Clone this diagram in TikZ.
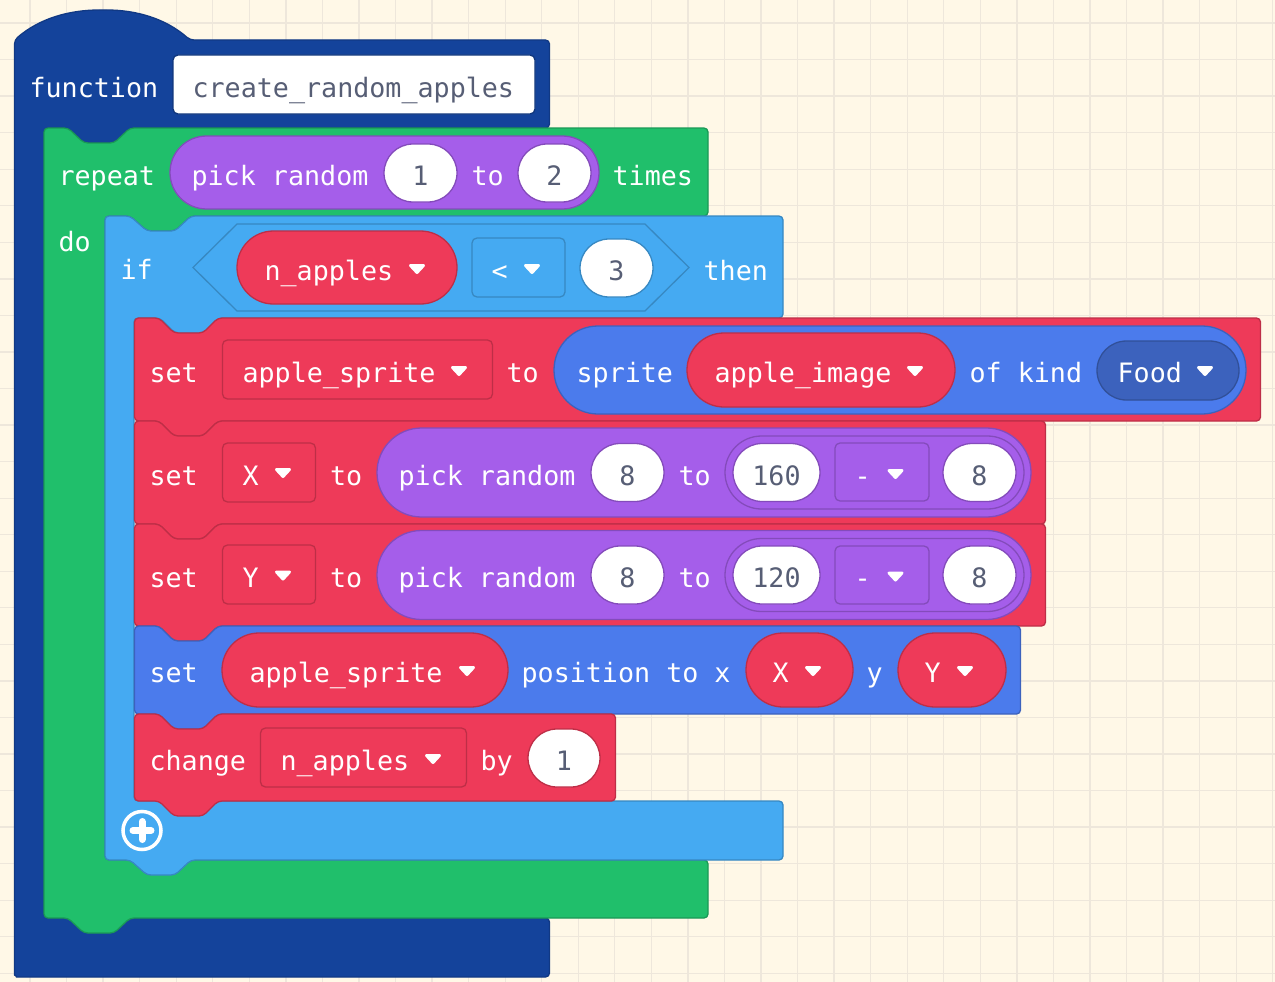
\documentclass[tikz,border=0pt]{standalone}
\usepackage{fontspec}
\setmonofont{DejaVu Sans Mono}
\usetikzlibrary{shapes.misc}

\definecolor{paper}{HTML}{FFF8E7}
\definecolor{gridline}{HTML}{EEE7DB}
\definecolor{funcblue}{HTML}{14439B}
\definecolor{loopgreen}{HTML}{20BF6B}
\definecolor{logicblue}{HTML}{45AAF2}
\definecolor{spriteblue}{HTML}{4B7BEC}
\definecolor{varred}{HTML}{EE3A59}
\definecolor{mathpurple}{HTML}{A55EEA}
\definecolor{valgrey}{HTML}{575E75}

\tikzset{
  block/.style={line width=1.3pt, rounded corners=4pt},
  lab/.style={anchor=base west, inner sep=0pt, xshift=-0.6pt, text=white, font=\ttfamily\fontsize{26.7}{30}\selectfont},
  pill/.style={rounded rectangle, draw, line width=1.3pt, inner sep=0pt, text=white,
    font=\ttfamily\fontsize{26.7}{30}\selectfont, text height=25pt, text depth=0pt},
  val/.style={pill, fill=white, draw=#1!80!black, text=valgrey},
  drop/.style={line width=1.3pt, rounded corners=5pt}
}

% statement block: colour, left, top, right, bottom
\newcommand{\stmtblock}[5]{
  \draw[block, fill=#1, draw=#1!80!black] (#2+.5,#3) -- (#2+25,#3) -- (#2+40,#3+15) -- (#2+69,#3+15)
  -- (#2+84,#3) -- (#4-.5,#3) -- (#4-.5,#5) -- (#2+84,#5) -- (#2+69,#5+15) -- (#2+40,#5+15)
  -- (#2+25,#5) -- (#2+.5,#5) -- cycle;
}
% little white triangle of a dropdown
\newcommand{\droptri}[2]{
  \filldraw[white, line width=3pt, line join=round] (#1-6.5,#2-3.5) -- (#1+6.5,#2-3.5) -- (#1,#2+3.5) -- cycle;
}

\begin{document}
\begin{tikzpicture}[x=1pt, y=-1pt]
  \useasboundingbox (0,0) rectangle (1275,982);
  \fill[paper] (0,0) rectangle (1275,982);
  \begin{scope}
    \clip (0,0) rectangle (1275,982);
    \foreach \gx in {0,...,34} {
      \draw[gridline, line width=1.3pt] (30+36.55*\gx,0) -- (30+36.55*\gx,982);
    }
    \foreach \gy in {0,...,26} {
      \draw[gridline, line width=1.3pt] (0,23+36.55*\gy) -- (1275,23+36.55*\gy);
    }
  \end{scope}

  % function
  \draw[block, fill=funcblue, draw=funcblue!85!black] (14.5,977) -- (549.5,977) -- (549.5,918) -- (44,918) -- (44,128)
  -- (68,128) -- (84,143) -- (114,143) -- (130,128) -- (549.5,128) -- (549.5,40) -- (190,40)
  .. controls (165,18) and (135,10) .. (103,10) .. controls (70,10) and (40,18) .. (14.5,40) -- (14.5,971)
  arc [start angle=180, end angle=90, radius=6] -- cycle;
  \node[lab] (lblFunction) at (30,97) {function};
  \draw[drop, fill=white, draw=funcblue!80!black] (173,55) rectangle (535,114);
  \node[lab, text=valgrey] (lblName) at (193,97) {create\_random\_apples};

  % repeat
  \draw[block, fill=loopgreen, draw=loopgreen!80!black] (44,128) -- (68,128) -- (84,143) -- (114,143) -- (130,128)
  -- (708,128) -- (708,216) -- (191,216) -- (175,231) -- (147,231) -- (130,216) -- (105,216) -- (105,860)
  -- (708,860) -- (708,918) -- (130,918) -- (114,933) -- (84,933) -- (68,918) -- (44,918) -- cycle;
  \node[lab] (lblRepeat) at (59,185) {repeat};
  \node[pill, fill=mathpurple, draw=mathpurple!80!black, minimum width=429pt, minimum height=73pt] (pillTimes) at (384.5,172.5) {};
  \node[lab] (lblPick) at (192,185) {pick random};
  \node[val=mathpurple, minimum width=73pt, minimum height=58pt] (valOne) at (420.5,173) {1};
  \node[lab] (lblToA) at (472,185) {to};
  \node[val=mathpurple, minimum width=73pt, minimum height=58pt] (valTwo) at (554.5,173) {2};
  \node[lab] (lblTimes) at (613,185) {times};
  \node[lab] (lblDo) at (59,251) {do};

  % if
  \draw[block, fill=logicblue, draw=logicblue!80!black] (105,216) -- (130,216) -- (147,231) -- (175,231) -- (191,216)
  -- (783,216) -- (783,318) -- (218,318) -- (203,333) -- (175,333) -- (160,318) -- (134,318) -- (134,801)
  -- (783,801) -- (783,860) -- (191,860) -- (175,875) -- (147,875) -- (130,860) -- (105,860) -- cycle;
  \node[lab] (lblIf) at (121,279) {if};
  \draw[line width=1.3pt, fill=logicblue, draw=logicblue!80!black] (193,267.5) -- (237,224) -- (645,224) -- (689,267.5) -- (645,311) -- (237,311) -- cycle;
  \node[pill, fill=varred, draw=varred!80!black, minimum width=220pt, minimum height=73pt] (pillCount) at (347,267.5) {};
  \node[lab] (lblCount) at (265,280) {n\_apples};
  \droptri{417}{269}
  \draw[drop, fill=logicblue, draw=logicblue!80!black] (472,238) rectangle (565,297);
  \node[lab] (lblLess) at (492,280) {<};
  \droptri{532}{269}
  \node[val=logicblue, minimum width=73pt, minimum height=58pt] (valThree) at (616.5,268) {3};
  \node[lab] (lblThen) at (704,280) {then};

  % set apple_sprite
  \stmtblock{varred}{134}{318}{1261}{421}
  \node[lab] (lblSetA) at (150,382) {set};
  \draw[drop, fill=varred, draw=varred!80!black] (222.5,340) rectangle (492.5,399);
  \node[lab] (lblSprite) at (243,382) {apple\_sprite};
  \droptri{459}{371}
  \node[lab] (lblToB) at (507,382) {to};
  \node[pill, fill=spriteblue, draw=spriteblue!80!black, minimum width=692pt, minimum height=88pt] (pillSprite) at (900,370) {};
  \node[lab] (lblKindSprite) at (577,382) {sprite};
  \node[pill, fill=varred, draw=varred!80!black, minimum width=268pt, minimum height=74pt] (pillImage) at (821,370) {};
  \node[lab] (lblImage) at (715,382) {apple\_image};
  \droptri{915}{371}
  \node[lab] (lblKind) at (970,382) {of kind};
  \node[pill, fill=spriteblue!80!black, draw=spriteblue!65!black, minimum width=142pt, minimum height=59pt] (pillFood) at (1168,370.5) {};
  \node[lab] (lblFood) at (1118,382) {Food};
  \droptri{1205}{371}

  % set X
  \stmtblock{varred}{134}{421}{1046}{524}
  \node[lab] (lblSetX) at (150,485) {set};
  \draw[drop, fill=varred, draw=varred!80!black] (222.5,443) rectangle (315.5,502);
  \node[lab] (lblX) at (243,485) {X};
  \droptri{283}{473}
  \node[lab] (lblToX) at (330.5,485) {to};
  \node[pill, fill=mathpurple, draw=mathpurple!80!black, minimum width=654pt, minimum height=89pt] (pillPickX) at (704,472.5) {};
  \node[lab] (lblPickX) at (399,485) {pick random};
  \node[val=mathpurple, minimum width=73pt, minimum height=58pt] (valXa) at (627.5,472.5) {8};
  \node[lab] (lblToXb) at (679,485) {to};
  \node[pill, fill=mathpurple, draw=mathpurple!80!black, minimum width=299pt, minimum height=73pt] (pillMinusX) at (874.5,472.5) {};
  \node[val=mathpurple, minimum width=87pt, minimum height=58pt] (valXb) at (776.5,472.5) {160};
  \draw[drop, fill=mathpurple, draw=mathpurple!80!black] (835,443) rectangle (929,501);
  \node[lab] (lblMinusX) at (855,485) {-};
  \droptri{895.5}{474}
  \node[val=mathpurple, minimum width=73pt, minimum height=58pt] (valXc) at (979.5,472.5) {8};

  % set Y
  \stmtblock{varred}{134}{524}{1046}{626}
  \node[lab] (lblSetY) at (150,587) {set};
  \draw[drop, fill=varred, draw=varred!80!black] (222.5,545) rectangle (315.5,604);
  \node[lab] (lblY) at (243,587) {Y};
  \droptri{283}{575.5}
  \node[lab] (lblToY) at (330.5,587) {to};
  \node[pill, fill=mathpurple, draw=mathpurple!80!black, minimum width=654pt, minimum height=89pt] (pillPickY) at (704,575) {};
  \node[lab] (lblPickY) at (399,587) {pick random};
  \node[val=mathpurple, minimum width=73pt, minimum height=58pt] (valYa) at (627.5,575) {8};
  \node[lab] (lblToYb) at (679,587) {to};
  \node[pill, fill=mathpurple, draw=mathpurple!80!black, minimum width=299pt, minimum height=73pt] (pillMinusY) at (874.5,575) {};
  \node[val=mathpurple, minimum width=87pt, minimum height=58pt] (valYb) at (776.5,575) {120};
  \draw[drop, fill=mathpurple, draw=mathpurple!80!black] (835,546) rectangle (929,604);
  \node[lab] (lblMinusY) at (855,587) {-};
  \droptri{895.5}{576.5}
  \node[val=mathpurple, minimum width=73pt, minimum height=58pt] (valYc) at (979.5,575) {8};

  % set position
  \stmtblock{spriteblue}{134}{626}{1021}{714}
  \node[lab] (lblSetPos) at (150,682) {set};
  \node[pill, fill=varred, draw=varred!80!black, minimum width=286pt, minimum height=74pt] (pillSpritePos) at (365,670) {};
  \node[lab] (lblSpritePos) at (250,682) {apple\_sprite};
  \droptri{467}{671}
  \node[lab] (lblPosition) at (522,682) {position to x};
  \node[pill, fill=varred, draw=varred!80!black, minimum width=107pt, minimum height=74pt] (pillPosX) at (799.5,670) {};
  \node[lab] (lblPosX) at (773,682) {X};
  \droptri{813}{671}
  \node[lab] (lblPosY) at (867,682) {y};
  \node[pill, fill=varred, draw=varred!80!black, minimum width=108pt, minimum height=74pt] (pillPosY) at (952,670) {};
  \node[lab] (lblPosYv) at (925,682) {Y};
  \droptri{965}{671}

  % change
  \stmtblock{varred}{134}{714}{616}{801}
  \node[lab] (lblChange) at (150,770) {change};
  \draw[drop, fill=varred, draw=varred!80!black] (260.5,728) rectangle (466.5,787);
  \node[lab] (lblChangeVar) at (281,770) {n\_apples};
  \droptri{433}{759}
  \node[lab] (lblBy) at (481,770) {by};
  \node[val=varred, minimum width=72pt, minimum height=58pt] (valBy) at (564,758) {1};

  % plus button
  \draw[white, line width=3.5pt] (142,830.5) circle [radius=19];
  \draw[white, line width=7pt, line cap=round] (133,830.5) -- (151,830.5);
  \draw[white, line width=7pt, line cap=round] (142,821.5) -- (142,839.5);
\end{tikzpicture}
\end{document}
